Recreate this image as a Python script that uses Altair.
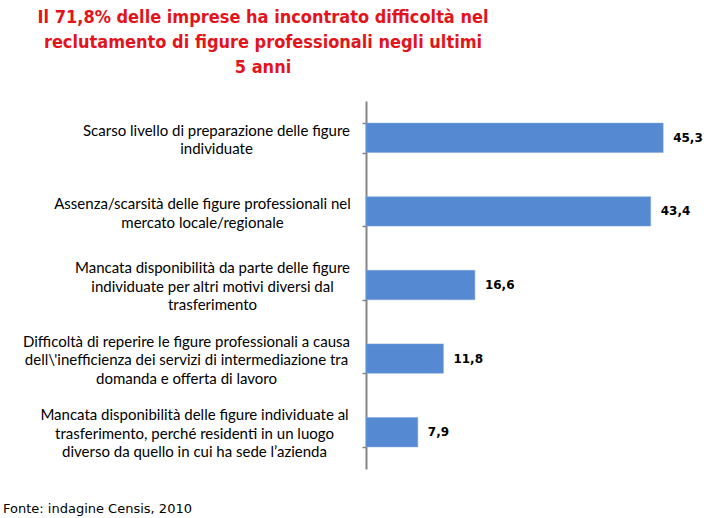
import json
import altair as alt
import pandas as pd

categories = [
    "Scarso livello di preparazione delle figure|individuate",
    "Assenza/scarsità delle figure professionali nel|mercato locale/regionale",
    "Mancata disponibilità da parte delle figure|individuate per altri motivi diversi dal|trasferimento",
    "Difficoltà di reperire le figure professionali  a causa|dell\\'inefficienza dei servizi di intermediazione  tra|domanda e offerta di lavoro",
    "Mancata disponibilità delle figure individuate al|trasferimento, perché residenti in un luogo|diverso da quello in cui ha sede l\u2019azienda",
]
values = [45.3, 43.4, 16.6, 11.8, 7.9]
# distance of each label block's centre from the axis (labels are right-aligned blocks, lines centred)
label_pad = [146, 160, 150, 176, 168]

title_lines = [
    "Il 71,8% delle imprese ha incontrato difficoltà nel",
    "reclutamento di figure professionali negli ultimi",
    "5 anni",
]
source_text = "Fonte: indagine Censis, 2010"

df = pd.DataFrame({"cat": categories, "v": values})

W, H = 328, 368

three_lines = "indexof(datum.label, '|') != lastindexof(datum.label, '|')"
pad_cond = {
    "condition": [
        {"test": f"datum.value == {json.dumps(c)}", "value": p}
        for c, p in zip(categories, label_pad)
    ],
    "value": 150,
}

y_enc = alt.Y(
    "cat:N",
    sort=categories,
    scale=alt.Scale(paddingInner=0.6, paddingOuter=0.3),
    axis=alt.Axis(
        title=None,
        labelExpr="split(datum.label, '|')",
        labelAlign="center",
        labelBaseline="middle",
        labelPadding=pad_cond,
        labelLimit=400,
        labelFont="Lato",
        labelFontSize=15,
        labelColor="#000000",
        labelLineHeight=18.5,
        labelOffset={"condition": {"test": three_lines, "value": -17.5}, "value": -7.5},
        tickBand="extent",
        tickSize=4,
        tickColor="#868686",
        domainColor="#868686",
        domainWidth=2,
        tickWidth=1.5,
    ),
)

bars = alt.Chart(df).mark_bar(color="#558AD2", stroke="#7FA6DC", strokeWidth=0.5).encode(
    x=alt.X("v:Q", scale=alt.Scale(domain=[0, 50]), axis=None),
    y=y_enc,
)

labels = alt.Chart(df).transform_calculate(
    lab="replace(format(datum.v, '.1f'), '.', ',')"
).mark_text(
    align="left", baseline="middle", dx=10, font="DejaVu Sans", fontSize=12, fontWeight="bold", color="#000000"
).encode(
    x=alt.X("v:Q", scale=alt.Scale(domain=[0, 50]), axis=None),
    y=alt.Y("cat:N", sort=categories),
    text="lab:N",
)

source = alt.Chart(pd.DataFrame({"t": [source_text]})).mark_text(
    align="left", baseline="middle", font="DejaVu Sans", fontSize=13, color="#000000"
).encode(
    x=alt.value(-363), y=alt.value(408), text="t:N"
)

chart = alt.layer(bars, labels, source).properties(
    width=W,
    height=H,
    autosize=alt.AutoSizeParams(type="none"),
    padding={"left": 366, "top": 101, "right": 16, "bottom": 49},
    title=alt.TitleParams(
        text=title_lines,
        anchor="start",
        align="center",
        frame="group",
        dx=-103,
        font="DejaVu Sans Condensed",
        fontSize=18,
        fontWeight="bold",
        color="#E3141B",
        lineHeight=25,
        offset=17,
    ),
).configure_view(stroke=None)

chart.save("out.html", embed_options={"renderer": "svg", "actions": False})
